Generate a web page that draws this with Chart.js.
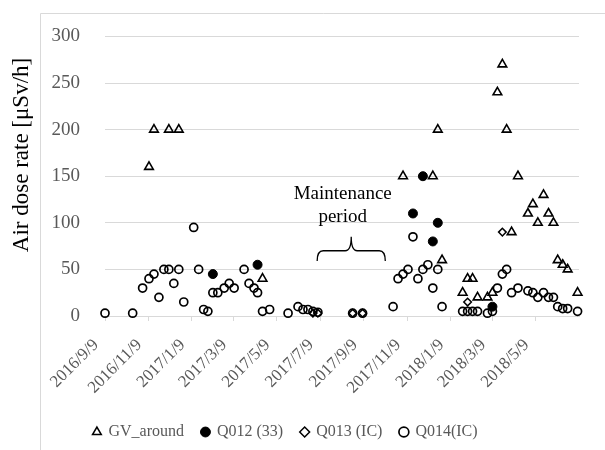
<!DOCTYPE html>
<html>
<head>
<meta charset="utf-8">
<script src="https://cdn.jsdelivr.net/npm/chart.js@4.4.0/dist/chart.umd.min.js"></script>
<style>
  html, body { margin: 0; padding: 0; background: #fff; }
  #wrap { position: relative; width: 605px; height: 450px; }
</style>
</head>
<body>
<div id="wrap"><canvas id="doseChart" width="605" height="450"></canvas></div>
<script>
// ==========================================
// DATA
// ==========================================
const xTickLabels = ['2016/9/9', '2016/11/9', '2017/1/9', '2017/3/9', '2017/5/9', '2017/7/9',
                     '2017/9/9', '2017/11/9', '2018/1/9', '2018/3/9', '2018/5/9'];
const axisStart = '2016/9/9';
const axisEnd = '2018/7/9';

const gvDates = ['2016-11-10', '2016-11-17', '2016-12-08', '2016-12-22', '2017-04-19',
                 '2017-11-03', '2017-12-15', '2017-12-22', '2017-12-28',
                 '2018-01-26', '2018-02-02', '2018-02-09', '2018-02-16', '2018-03-02', '2018-03-09',
                 '2018-03-16', '2018-03-23', '2018-03-29', '2018-04-05', '2018-04-14', '2018-04-28',
                 '2018-05-05', '2018-05-12', '2018-05-20', '2018-05-27', '2018-06-03', '2018-06-09',
                 '2018-06-16', '2018-06-23', '2018-07-07'];
const gvValues = [160, 200, 200, 200, 40,
                  150, 150, 200, 60,
                  25, 40, 40, 20, 20, 25,
                  240, 270, 200, 90, 150, 110,
                  120, 100, 130, 110, 100, 60,
                  55, 50, 25];

const q012Dates = ['2017-02-08', '2017-04-12', '2017-11-17', '2017-12-01', '2017-12-15', '2017-12-22', '2018-03-09'];
const q012Values = [45, 55, 110, 150, 80, 100, 10];

const q013Dates = ['2017-06-29', '2017-07-06', '2017-08-24', '2017-09-07', '2018-02-02', '2018-03-23'];
const q013Values = [3, 3, 3, 3, 15, 90];

const q014Dates = ['2016-09-09', '2016-10-18', '2016-11-01', '2016-11-10', '2016-11-17', '2016-11-24',
                   '2016-12-01', '2016-12-08', '2016-12-15', '2016-12-22', '2016-12-29',
                   '2017-01-12', '2017-01-19', '2017-01-26', '2017-02-01', '2017-02-08', '2017-02-15',
                   '2017-02-24', '2017-03-03', '2017-03-10', '2017-03-24', '2017-03-31', '2017-04-07',
                   '2017-04-12', '2017-04-19', '2017-04-29', '2017-05-25', '2017-06-08', '2017-06-15',
                   '2017-06-22', '2017-06-29', '2017-07-06', '2017-08-24', '2017-09-07',
                   '2017-10-20', '2017-10-27', '2017-11-03', '2017-11-10', '2017-11-17', '2017-11-24',
                   '2017-12-01', '2017-12-08', '2017-12-15', '2017-12-22', '2017-12-28',
                   '2018-01-26', '2018-02-02', '2018-02-09', '2018-02-16', '2018-03-02', '2018-03-09',
                   '2018-03-16', '2018-03-23', '2018-03-29', '2018-04-05', '2018-04-14', '2018-04-28',
                   '2018-05-05', '2018-05-12', '2018-05-20', '2018-05-27', '2018-06-03', '2018-06-09',
                   '2018-06-16', '2018-06-23', '2018-07-07'];
const q014Values = [3, 3, 30, 40, 45, 20,
                    50, 50, 35, 50, 15,
                    95, 50, 7, 5, 25, 25,
                    30, 35, 30, 50, 35, 30,
                    25, 5, 7, 3, 10, 7,
                    7, 5, 4, 3, 3,
                    10, 40, 45, 50, 85, 40,
                    50, 55, 30, 50, 10,
                    5, 5, 5, 5, 3, 5,
                    30, 45, 50, 25, 30, 27,
                    25, 20, 25, 20, 20, 10,
                    8, 8, 5];

const yMin = 0;
const yMax = 300;
const yStep = 50;

// ==========================================
// HELPERS
// ==========================================
function toUTC(s) {
    const p = s.split(/[-\/]/).map(Number);
    return Date.UTC(p[0], p[1] - 1, p[2]);
}
function dayOf(s) {
    return (toUTC(s) - toUTC(axisStart)) / 86400000;
}
function toPoints(dates, values) {
    return dates.map((d, i) => ({ x: dayOf(d), y: values[i] }));
}

const serif = "'Liberation Serif', 'Times New Roman', serif";
const tickDays = xTickLabels.map(dayOf);

// frame, y title, maintenance annotation
const extras = {
    id: 'extras',
    afterLayout(chart) {
        chart.legend.left -= 4;
        chart.legend.right -= 4;
    },
    beforeDraw(chart) {
        const ctx = chart.ctx;
        ctx.save();
        ctx.strokeStyle = '#d9d9d9';
        ctx.lineWidth = 1;
        ctx.beginPath();
        ctx.moveTo(40.5, 460);
        ctx.lineTo(40.5, 13.5);
        ctx.lineTo(620, 13.5);
        ctx.stroke();
        ctx.restore();
    },
    afterDraw(chart) {
        const ctx = chart.ctx;
        const xs = chart.scales.x, ys = chart.scales.y;
        ctx.save();
        // y axis title
        ctx.fillStyle = '#000';
        ctx.font = '23px ' + serif;
        ctx.textAlign = 'center';
        ctx.textBaseline = 'middle';
        ctx.translate(22, 155);
        ctx.rotate(-Math.PI / 2);
        ctx.fillText('Air dose rate [\u03bcSv/h]', 0, 0);
        ctx.restore();

        // maintenance label
        ctx.save();
        ctx.fillStyle = '#000';
        ctx.font = '19px ' + serif;
        ctx.textAlign = 'center';
        ctx.textBaseline = 'middle';
        const tx = xs.getPixelForValue(dayOf('2017-08-10'));
        ctx.fillText('Maintenance', tx, ys.getPixelForValue(131));
        ctx.fillText('period', tx, ys.getPixelForValue(106));

        // brace
        const x1 = xs.getPixelForValue(dayOf('2017-07-05'));
        const x2 = xs.getPixelForValue(dayOf('2017-10-09'));
        const xm = (x1 + x2) / 2;
        const yTop = ys.getPixelForValue(85);
        const yMid = ys.getPixelForValue(70);
        const yBot = ys.getPixelForValue(59);
        const r = 6;
        ctx.strokeStyle = '#000';
        ctx.lineWidth = 1.3;
        ctx.beginPath();
        ctx.moveTo(x1, yBot);
        ctx.quadraticCurveTo(x1, yMid, x1 + r, yMid);
        ctx.lineTo(xm - r, yMid);
        ctx.quadraticCurveTo(xm, yMid, xm, yTop);
        ctx.quadraticCurveTo(xm, yMid, xm + r, yMid);
        ctx.lineTo(x2 - r, yMid);
        ctx.quadraticCurveTo(x2, yMid, x2, yBot);
        ctx.stroke();
        ctx.restore();
    }
};

const open = 'rgba(0,0,0,0)';

new Chart(document.getElementById('doseChart'), {
    type: 'scatter',
    data: {
        datasets: [
            {
                label: 'GV_around',
                data: toPoints(gvDates, gvValues),
                pointStyle: 'triangle',
                pointRadius: 5,
                borderColor: '#000',
                backgroundColor: open,
                borderWidth: 1.6,
                clip: false
            },
            {
                label: 'Q012 (33)',
                data: toPoints(q012Dates, q012Values),
                pointStyle: 'circle',
                pointRadius: 4.5,
                borderColor: '#000',
                backgroundColor: '#000',
                borderWidth: 1,
                clip: false
            },
            {
                label: 'Q013 (IC)',
                data: toPoints(q013Dates, q013Values),
                pointStyle: 'rectRot',
                pointRadius: 3.8,
                borderColor: '#000',
                backgroundColor: open,
                borderWidth: 1.5,
                clip: false
            },
            {
                label: 'Q014(IC)',
                data: toPoints(q014Dates, q014Values),
                pointStyle: 'circle',
                pointRadius: 4,
                borderColor: '#000',
                backgroundColor: open,
                borderWidth: 1.7,
                clip: false
            }
        ]
    },
    options: {
        responsive: false,
        animation: false,
        layout: {
            padding: { left: 0, right: 26, top: 27, bottom: 0 }
        },
        plugins: {
            legend: {
                position: 'bottom',
                labels: {
                    usePointStyle: true,
                    boxWidth: 7,
                    boxHeight: 7,
                    padding: 18,
                    color: '#595959',
                    font: { family: serif, size: 16 }
                }
            },
            tooltip: { enabled: false }
        },
        scales: {
            x: {
                type: 'linear',
                min: 0,
                max: dayOf(axisEnd),
                afterBuildTicks: function(scale) {
                    scale.ticks = tickDays.map(v => ({ value: v }));
                },
                afterFit: function(scale) {
                    scale.height = 90;
                },
                ticks: {
                    autoSkip: false,
                    minRotation: 45,
                    maxRotation: 45,
                    padding: 14,
                    labelOffset: -9,
                    color: '#595959',
                    font: { family: serif, size: 17 },
                    callback: function(value) {
                        const i = tickDays.indexOf(value);
                        return i >= 0 ? xTickLabels[i] : '';
                    }
                },
                grid: {
                    drawOnChartArea: false,
                    drawTicks: true,
                    tickLength: 5,
                    color: '#d9d9d9'
                },
                border: { display: true, color: '#d9d9d9' }
            },
            y: {
                min: yMin,
                max: yMax,
                afterFit: function(scale) {
                    scale.width = 105;
                },
                ticks: {
                    stepSize: yStep,
                    padding: 25,
                    color: '#595959',
                    font: { family: serif, size: 19 }
                },
                grid: {
                    drawTicks: false,
                    color: '#d9d9d9'
                },
                border: { display: false }
            }
        }
    },
    plugins: [extras]
});
</script>
</body>
</html>
